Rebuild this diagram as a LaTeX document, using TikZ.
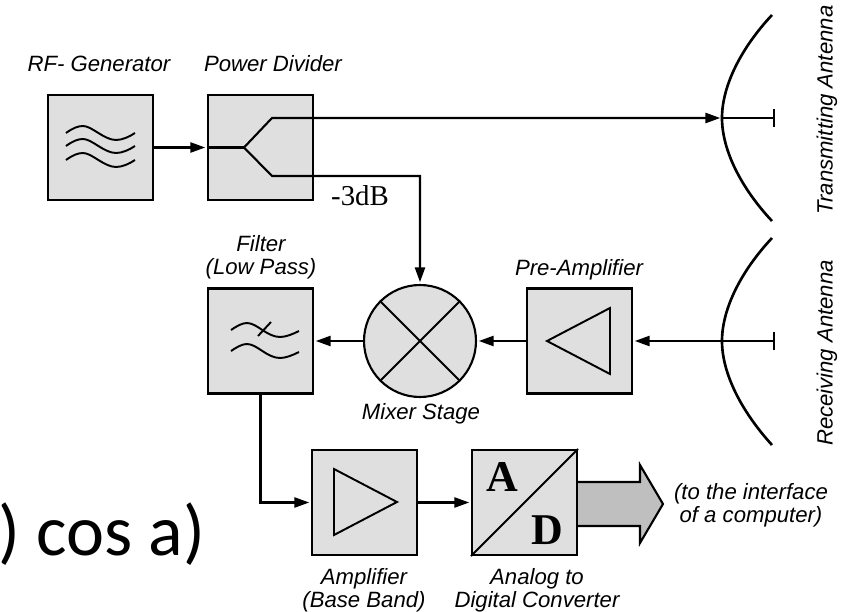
\documentclass[tikz,border=0pt]{standalone}
\usepackage{fontspec}
\setmainfont{Liberation Sans}
\newfontfamily\serifface{Liberation Serif}
\newfontfamily\formulaface{Carlito}
\usetikzlibrary{arrows.meta}

\tikzset{
  blockbox/.style={draw, line width=1.2pt, fill=gray!25, minimum size=2.1cm, inner sep=0pt},
  wire/.style={line width=1.2pt},
  symbol/.style={line width=1.1pt, line join=miter},
  caption/.style={font=\fontsize{12.6}{13}\selectfont\itshape, align=center, inner sep=0pt},
  dish/.style={line width=1.5pt},
}

\begin{document}
\begin{tikzpicture}[x=0.02cm, y=-0.02cm, >={Stealth[inset=0pt, length=8.5pt, width=5.8pt]}]
  \useasboundingbox (0,0) rectangle (846,612);

  % blocks
  \node[blockbox] (rfgen) at (100.5,147.5) {};
  \node[blockbox] (divider) at (260.5,147.5) {};
  \node[blockbox] (filter) at (260.5,341) {};
  \node[blockbox] (preamp) at (579.5,341) {};
  \node[blockbox] (amplifier) at (364.5,502.5) {};
  \node[blockbox] (adc) at (524.5,502.5) {};
  \node[draw, circle, line width=1.2pt, fill=gray!25, minimum size=2.24cm, inner sep=0pt] (mixer) at (420,341) {};

  % captions
  \node[caption] (rfgenlabel) at (99,64) {RF- Generator};
  \node[caption] (dividerlabel) at (273,64) {Power Divider};
  \node[caption] (filterlabel) at (261,257) {Filter\\(Low Pass)};
  \node[caption] (preamplabel) at (579,270) {Pre-Amplifier};
  \node[caption] (mixerlabel) at (421,414) {Mixer Stage};
  \node[caption] (amplifierlabel) at (364,590) {Amplifier\\(Base Band)};
  \node[caption] (adclabel) at (537,590) {Analog to\\Digital Converter};
  \node[caption] (interfacelabel) at (751,505) {(to the interface\\of a computer)};
  \node[caption, rotate=90] (txlabel) at (827,110) {Transmitting Antenna};
  \node[caption, rotate=90] (rxlabel) at (827,353) {Receiving Antenna};
  \node[font=\serifface\fontsize{16.4}{18}\selectfont, inner sep=0pt] (losslabel) at (360,196) {-3dB};
  \node[anchor=base west, inner sep=0pt, font=\formulaface\fontsize{41}{45}\selectfont] (formula) at (-2,555) {) cos a)};

  % RF generator waves
  \foreach \dy in {0,13,27} {
    \draw[symbol, shift={(0,\dy)}] (66,133) .. controls (73,128) and (78,126) .. (83,126)
      .. controls (92,126) and (104,140) .. (116,140) .. controls (122,140) and (129,137) .. (135,133);
  }

  % filter waves
  \foreach \dy in {0,21} {
    \draw[symbol, shift={(0,\dy)}] (231,330) .. controls (237,326) and (242,323) .. (247,323)
      .. controls (257,323) and (267,337) .. (280,337) .. controls (286,337) and (293,334) .. (299,331);
  }
  \draw[symbol] (258,336) -- (271,322);

  % mixer cross
  \draw[symbol] (mixer.north west) -- (mixer.south east);
  \draw[symbol] (mixer.north east) -- (mixer.south west);

  % amplifier triangles
  \draw[symbol] (334,469) -- (334,535) -- (397,502) -- cycle;
  \draw[symbol] (610,308) -- (610,374) -- (547,341) -- cycle;

  % converter
  \draw[symbol] (adc.south west) -- (adc.north east);
  \node[font=\serifface\bfseries\fontsize{25}{25}\selectfont, inner sep=0pt] (adca) at (502,477) {A};
  \node[font=\serifface\bfseries\fontsize{25}{25}\selectfont, inner sep=0pt] (adcd) at (547,530) {D};

  % output arrow
  \draw[line width=1.2pt, fill=gray!50] (adc.east |- 0,482) -- (640,482) -- (640,465) -- (663,504)
    -- (640,543) -- (640,526) -- (adc.east |- 0,526);

  % antennas
  \coordinate (txdish) at (722,118);
  \coordinate (txend) at (774,118);
  \coordinate (rxdish) at (722,341);
  \coordinate (rxend) at (774,341);
  \draw[dish] (772,15) .. controls (742,47) and (722,85) .. (txdish) .. controls (722,151) and (742,189) .. (772,221);
  \draw[dish] (772,238) .. controls (742,270) and (722,308) .. (rxdish) .. controls (722,374) and (742,412) .. (772,445);
  \draw[wire] (txdish) -- (txend);
  \draw[wire] (rxdish) -- (rxend);
  \draw[dish] (774,109) -- (774,127);
  \draw[dish] (774,332) -- (774,350);

  % connectors
  \coordinate (split) at (244,147.5);
  \coordinate (upper) at (272,118);
  \coordinate (lower) at (272,176);
  \coordinate (drop) at (420,176);
  \coordinate (bend) at (260.5,502.5);
  \draw[wire, ->, shorten >=1pt] (rfgen) -- (divider);
  \draw[wire] (divider.west) -- (split);
  \draw[wire, ->, shorten >=1pt] (split) -- (upper) -- (txdish);
  \draw[wire, ->, shorten >=1pt] (split) -- (lower) -- (drop) -- (mixer);
  \draw[wire, ->, shorten >=1pt] (rxdish) -- (preamp);
  \draw[wire, ->, shorten >=1pt] (preamp) -- (mixer);
  \draw[wire, ->, shorten >=1pt] (mixer) -- (filter);
  \draw[wire, ->, shorten >=1pt] (filter) -- (bend) -- (amplifier);
  \draw[wire, ->, shorten >=1pt] (amplifier) -- (adc);
\end{tikzpicture}
\end{document}
